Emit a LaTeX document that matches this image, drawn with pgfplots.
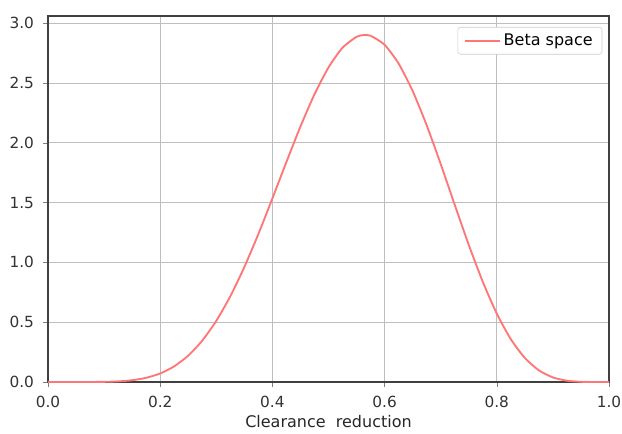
\documentclass[border=0pt]{standalone}
\usepackage{fontspec}
\setmainfont{DejaVu Sans}
\usepackage{pgfplots}
\pgfplotsset{compat=1.18}
\definecolor{betared}{RGB}{255,118,118}
\definecolor{gridgray}{RGB}{190,190,190}
\begin{document}
\begin{tikzpicture}
\useasboundingbox (-36pt,-38.25pt) rectangle (430.5pt,286.5pt);
\begin{axis}[
    at={(0,0)}, anchor=south west,
    scale only axis,
    width=420.75pt, height=274.5pt,
    xmin=0, xmax=1, ymin=0, ymax=3.06,
    xtick={0,0.2,0.4,0.6,0.8,1.0},
    ytick={0,0.5,1.0,1.5,2.0,2.5,3.0},
    xticklabel style={/pgf/number format/.cd,fixed,fixed zerofill,precision=1},
    yticklabel style={/pgf/number format/.cd,fixed,fixed zerofill,precision=1},
    /pgf/number format/assume math mode=true,
    xticklabel shift=3.5pt, yticklabel shift=3.5pt,
    tick label style={font=\fontsize{11.5}{13}\selectfont, text=black!80},
    label style={font=\fontsize{12}{14}\selectfont, text=black!85},
    xlabel={Clearance\ \ reduction},
    xlabel style={yshift=1pt},
    tick align=outside, tick pos=left,
    major tick length=3.5pt,
    grid=major,
    grid style={gridgray, line width=0.7pt},
    axis line style={black!75, line width=0.8pt},
    legend style={font=\fontsize{12}{14}\selectfont, draw=black!20, rounded corners=2pt,
                  inner xsep=5pt, inner ysep=3pt, at={(0.988,0.97)}, anchor=north east},
    legend image code/.code={\draw[#1] (0pt,0pt) -- (26pt,0pt);},
    every legend image post/.append style={line width=1.4pt},
    legend cell align=left,
]
\addplot[betared, line width=1.4pt, smooth, tension=0.4] coordinates {
(0,0)(0.025,0)(0.05,0.00002)(0.075,0.00025)(0.1,0.00142)(0.125,0.00527)
(0.15,0.01491)(0.175,0.03499)(0.2,0.07146)(0.225,0.1311)(0.25,0.2207)
(0.275,0.3461)(0.3,0.5113)(0.325,0.7171)(0.35,0.9613)(0.375,1.2373)
(0.4,1.5347)(0.425,1.8397)(0.45,2.1357)(0.475,2.4052)(0.5,2.6303)
(0.525,2.7948)(0.55,2.8858)(0.5625,2.9005)(0.575,2.8950)(0.6,2.8192)(0.625,2.6621)
(0.65,2.4329)(0.675,2.1465)(0.7,1.8223)(0.725,1.4816)(0.75,1.1467)
(0.775,0.8380)(0.8,0.5716)(0.825,0.3581)(0.85,0.2012)(0.875,0.0976)
(0.9,0.0384)(0.925,0.01089)(0.95,0.0017)(0.975,0.00006)(1,0)
};
\addlegendentry{Beta space}
\end{axis}
\end{tikzpicture}
\end{document}
